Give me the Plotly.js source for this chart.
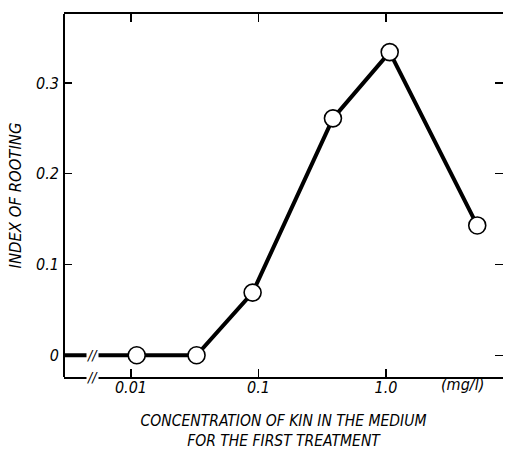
<!DOCTYPE html>
<html>
<head>
<meta charset="utf-8">
<script src="https://cdn.plot.ly/plotly-3.0.1.min.js"></script>
<style>html,body{margin:0;padding:0;background:#fff;}#chart{width:506px;height:452px;}</style>
</head>
<body>
<div id="chart"></div>
<script>
// Concentration of KIN (mg/l), log scale; first value 0 is shown as a segment from the axis break
const concentration = [0.0111, 0.0327, 0.09, 0.384, 1.07, 5.2];
const indexOfRooting = [0, 0, 0.069, 0.261, 0.334, 0.143];
const zeroConcX = [0.0025, 0.0111];
const zeroConcY = [0, 0];
const xTickVals = [0.01, 0.1, 1];
const xTickText = ['0.01', '0.1', '1.0'];
const yTickVals = [0, 0.1, 0.2, 0.3];
const yTickText = ['0', '0.1', '0.2', '0.3'];

const FONT = '"Liberation Sans Narrow", "DejaVu Sans Condensed", "Liberation Sans", sans-serif';

const traces = [
  {
    x: zeroConcX, y: zeroConcY, type: 'scatter', mode: 'lines',
    line: {color: '#000', width: 4}, hoverinfo: 'skip', showlegend: false, cliponaxis: true
  },
  {
    x: concentration, y: indexOfRooting, type: 'scatter', mode: 'lines+markers',
    line: {color: '#000', width: 4},
    marker: {symbol: 'circle', size: 17, color: '#fff', line: {color: '#000', width: 1.6}},
    showlegend: false, cliponaxis: false
  }
];

const layout = {
  width: 506, height: 452,
  margin: {l: 64, r: 3, t: 14, b: 75},
  paper_bgcolor: '#fff', plot_bgcolor: '#fff',
  font: {family: FONT, color: '#000', size: 13, style: 'italic'},
  xaxis: {
    type: 'log', range: [-2.525, 0.918],
    tickvals: xTickVals, ticktext: xTickText,
    ticks: 'inside', ticklen: 8, tickwidth: 1.2, tickcolor: '#000',
    showline: true, linecolor: '#000', linewidth: 2, mirror: 'ticks',
    showgrid: false, zeroline: false,
    tickfont: {family: FONT, size: 16, style: 'italic'},
    ticklabelstandoff: -5,
    title: {text: 'CONCENTRATION OF KIN IN THE MEDIUM<br>FOR THE FIRST TREATMENT',
            font: {family: FONT, size: 15.5, style: 'italic'}, standoff: 19}
  },
  yaxis: {
    range: [-0.024, 0.376],
    tickvals: yTickVals, ticktext: yTickText,
    ticks: 'inside', ticklen: 8, tickwidth: 1.2, tickcolor: '#000',
    showline: false, mirror: 'ticks',
    showgrid: false, zeroline: false,
    tickfont: {family: FONT, size: 16, style: 'italic'},
    ticklabelstandoff: 4,
    title: {text: 'INDEX OF ROOTING', font: {family: FONT, size: 16.5, style: 'italic'}, standoff: 10}
  },
  shapes: [
    {type: 'line', xref: 'paper', yref: 'paper', x0: 0, x1: 0, y0: 0, y1: 1,
     line: {color: '#000', width: 2}}
  ],
  annotations: [
    {text: '(mg/<i>l</i>)', xref: 'paper', yref: 'paper', x: 0.907, y: -0.022,
     xanchor: 'center', yanchor: 'middle', showarrow: false,
     font: {family: FONT, size: 16, style: 'italic'}},
    {text: '//', xref: 'paper', yref: 'y', x: 0.066, y: 0, xanchor: 'center', yanchor: 'middle',
     showarrow: false, bgcolor: '#fff', borderpad: 0,
     font: {family: FONT, size: 14, style: 'italic'}},
    {text: '//', xref: 'paper', yref: 'paper', x: 0.066, y: 0, xanchor: 'center', yanchor: 'middle',
     showarrow: false, bgcolor: '#fff', borderpad: 0,
     font: {family: FONT, size: 14, style: 'italic'}}
  ]
};

Plotly.newPlot('chart', traces, layout, {displayModeBar: false, staticPlot: true});
</script>
</body>
</html>
